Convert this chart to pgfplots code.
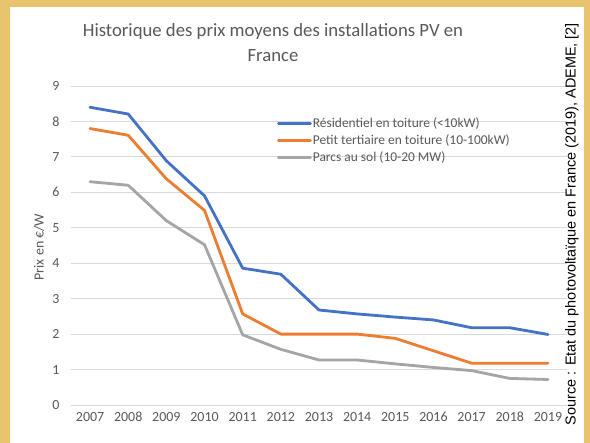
\documentclass[border=0pt]{standalone}
\usepackage{fontspec}
\setmainfont{Carlito}
\newfontfamily\srcfont{Liberation Sans}
\usepackage{pgfplots}
\pgfplotsset{compat=1.18}
\definecolor{bord}{HTML}{E8C46C}
\definecolor{tickgray}{HTML}{595959}
\definecolor{gridgray}{HTML}{D9D9D9}
\definecolor{cblue}{HTML}{4472C4}
\definecolor{corange}{HTML}{ED7D31}
\definecolor{cgray}{HTML}{A5A5A5}
\begin{document}
\begin{tikzpicture}
\fill[bord] (0,0) rectangle (590bp,443bp);
\fill[white] (10bp,0) rectangle (584bp,436bp);
\begin{axis}[
  at={(71bp,38bp)}, anchor=south west,
  width=496bp, height=319bp, scale only axis,
  xmin=2006.5, xmax=2019.5, ymin=0, ymax=9,
  xtick={2007,2008,2009,2010,2011,2012,2013,2014,2015,2016,2017,2018,2019}, ytick={0,1,...,9},
  /pgf/number format/assume math mode=true,
  /pgf/number format/1000 sep={},
  axis line style={draw=none},
  major tick style={draw=none},
  ymajorgrids, grid style={gridgray, line width=0.9bp},
  tick label style={font=\fontsize{14}{16}\selectfont, text=tickgray},
  xticklabel style={anchor=north, text height=1.6ex, text depth=0.2ex, yshift=-5bp},
  yticklabel style={xshift=-8bp},
  legend style={at={(0.415,0.903)}, anchor=north west, draw=none, fill=none,
    font=\fontsize{13.5}{16}\selectfont, text=tickgray, row sep=3.5bp,
    inner sep=0pt, nodes={inner sep=1bp}},
  legend cell align=left,
  legend image code/.code={\draw[#1] (0bp,0bp) -- (32bp,0bp);},
  every axis plot/.append style={line width=2.8bp, line join=round, line cap=round},
]
\addplot[cblue] coordinates {(2007,8.40) (2008,8.21) (2009,6.89) (2010,5.90) (2011,3.86) (2012,3.69) (2013,2.68) (2014,2.57) (2015,2.48) (2016,2.40) (2017,2.18) (2018,2.18) (2019,1.99)};
\addlegendentry{Résidentiel en toiture (<10kW)}
\addplot[corange] coordinates {(2007,7.80) (2008,7.61) (2009,6.38) (2010,5.49) (2011,2.57) (2012,2.00) (2013,2.00) (2014,2.00) (2015,1.88) (2016,1.53) (2017,1.18) (2018,1.18) (2019,1.18)};
\addlegendentry{Petit tertiaire en toiture (10-100kW)}
\addplot[cgray] coordinates {(2007,6.30) (2008,6.20) (2009,5.20) (2010,4.52) (2011,1.98) (2012,1.57) (2013,1.27) (2014,1.27) (2015,1.16) (2016,1.06) (2017,0.97) (2018,0.75) (2019,0.72)};
\addlegendentry{Parcs au sol (10-20 MW)}
\end{axis}
\node[font=\fontsize{18.8}{25}\selectfont, text=tickgray, align=center] at (273bp,400bp) {Historique des prix moyens des installations PV en\\France};
\node[rotate=90, font=\fontsize{14}{16}\selectfont, text=tickgray] at (39bp,196bp) {Prix en €/W};
\node[rotate=90, font=\srcfont\fontsize{14.5}{16}\selectfont] at (572bp,219bp) {Source : Etat du photovoltaïque en France (2019), ADEME, [2]};
\end{tikzpicture}
\end{document}
